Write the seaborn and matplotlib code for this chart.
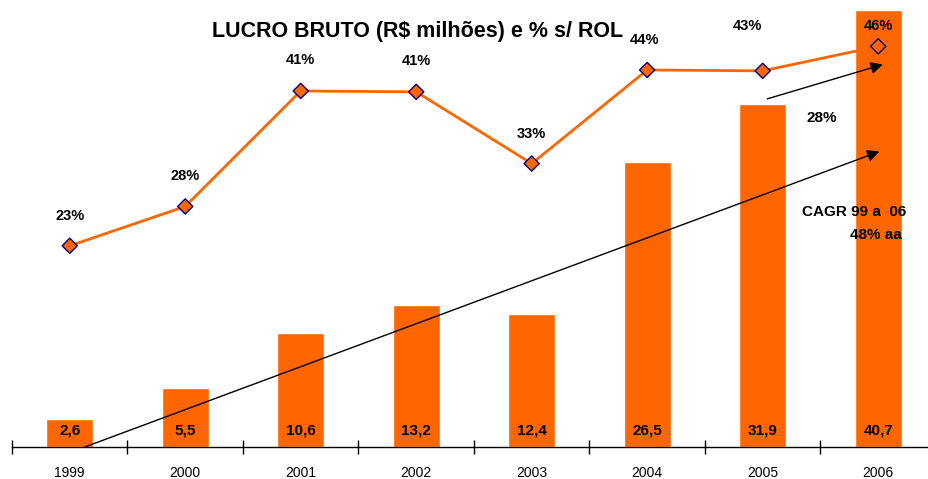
import numpy as np
import matplotlib
matplotlib.use("Agg")
import matplotlib.pyplot as plt
import seaborn as sns

# data
years = ["1999", "2000", "2001", "2002", "2003", "2004", "2005", "2006"]
lucro = [2.6, 5.5, 10.6, 13.2, 12.4, 26.5, 31.9, 40.7]
lucro_labels = ["2,6", "5,5", "10,6", "13,2", "12,4", "26,5", "31,9", "40,7"]
margem = [23.0, 27.5, 40.7, 40.6, 32.4, 43.1, 43.0, 45.8]
margem_labels = ["23%", "28%", "41%", "41%", "33%", "44%", "43%", "46%"]

sns.set_style("white")
plt.rcParams["font.family"] = ["Liberation Sans", "DejaVu Sans"]
plt.rcParams["text.color"] = "black"
plt.rcParams["xtick.color"] = "black"

orange = "#FF6600"
navy = "#000080"

fig = plt.figure(figsize=(9.29, 4.79), dpi=100)
ax = fig.add_axes([12 / 929, 32 / 479, 1 - 12 / 929, 447 / 479])

x = np.arange(len(years))
sns.barplot(x=x, y=lucro, color=orange, saturation=1, width=0.41,
            native_scale=True, ax=ax, zorder=2)
ax.set_xlim(-0.5, 7.44)
ax.set_ylim(0, 41.6)

for xi, lab in zip(x, lucro_labels):
    ax.text(xi, 1.5, lab, ha="center", va="center", fontsize=11,
            fontweight="bold", color="black", zorder=5)

# axis styling
sns.despine(ax=ax, left=True, top=True, right=True)
ax.spines["bottom"].set_color("black")
ax.spines["bottom"].set_linewidth(1.0)
ax.set_yticks([])
ax.set_xticks(x)
ax.set_xticklabels(years, fontsize=10)
ax.tick_params(axis="x", which="major", length=0, pad=14, bottom=True)
ax.set_xticks(np.arange(-0.5, 7.5, 1), minor=True)
ax.tick_params(axis="x", which="minor", direction="inout", length=10,
               width=1, color="black", bottom=True)
ax.set_xlabel("")
ax.set_ylabel("")

# arrows
ax.annotate("", xy=(7.01, 27.5), xytext=(0.13, 0.0),
            arrowprops=dict(arrowstyle="-|>", color="black", lw=1,
                            mutation_scale=18, shrinkA=0, shrinkB=0),
            zorder=6)
ax.annotate("", xy=(7.04, 35.6), xytext=(6.04, 32.4),
            arrowprops=dict(arrowstyle="-|>", color="black", lw=1,
                            mutation_scale=18, shrinkA=0, shrinkB=0),
            zorder=6)

# line on twin axis
ax2 = ax.twinx()
ax2.set_ylim(0, 51.1)
sns.lineplot(x=x, y=margem, color=orange, linewidth=2, ax=ax2, zorder=3)
face = [orange] * 7 + ["none"]
ax2.scatter(x, margem, marker="D", s=60, facecolors=face,
            edgecolors=navy, linewidths=1, zorder=4)
ax2.set_yticks([])
for sp in ax2.spines.values():
    sp.set_visible(False)
ax2.set_ylabel("")

lab_pos = [(0, 26.4), (1, 31.0), (2, 44.2), (3, 44.1), (4, 35.8),
           (4.98, 46.5), (5.87, 48.1), (7, 48.1)]
for (px, py), lab in zip(lab_pos, margem_labels):
    ax2.text(px, py, lab, ha="center", va="center", fontsize=10.5,
             fontweight="bold", color="black")

ax.text(6.51, 30.6, "28%", ha="center", va="center", fontsize=11,
        fontweight="bold")
ax.text(6.79, 21.9, "CAGR 99 a  06", ha="center", va="center", fontsize=11,
        fontweight="bold", zorder=6)
ax.text(6.98, 19.7, "48% aa", ha="center", va="center", fontsize=11,
        fontweight="bold", zorder=6)

fig.text(418 / 929, 1 - 31 / 479, "LUCRO BRUTO (R$ milhões) e % s/ ROL",
         ha="center", va="center", fontsize=15.5, fontweight="bold")

fig.savefig("out.png", dpi=100)
